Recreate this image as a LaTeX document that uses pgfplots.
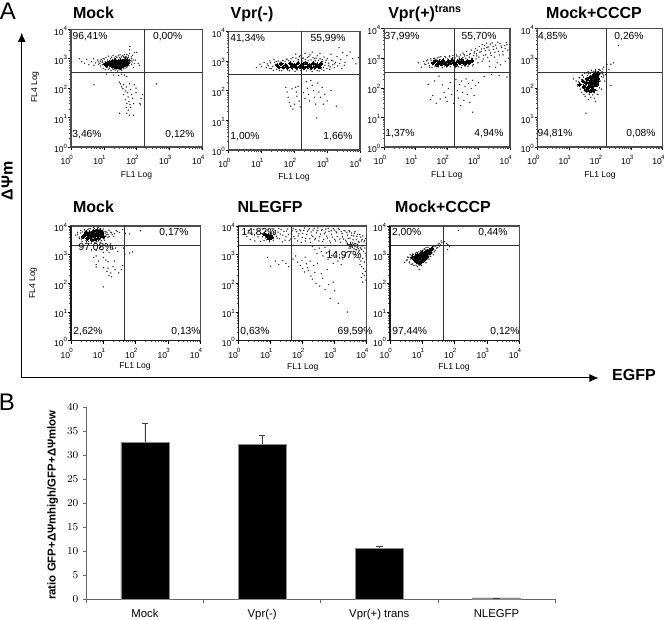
\documentclass[border=0pt]{standalone}
\usepackage{fontspec}
\setmainfont{Liberation Sans}
\usepackage{pgfplots}
\usepackage{pgfplotstable}
\usetikzlibrary{arrows.meta}
\pgfplotsset{compat=1.18}
% ---- dense core, scattered events and halo of each dot plot: FL1 FL4
\pgfplotstableread[row sep=\\]{x y\\
11 650\\13 720\\15 620\\15 780\\18 560\\18 680\\18 820\\22 520\\22 640\\22 760\\22 900\\27 540\\27 660\\27 800\\32 500\\32 620\\32 740\\32 880\\38 560\\38 680\\38 830\\45 620\\45 760\\45 940\\53 700\\53 860\\12 580\\25 590\\29 720\\35 650\\}\pA
\pgfplotstableread[row sep=\\]{x y\\
1.8 1000\\2.1 800\\2.6 700\\3 950\\3.5 620\\4.2 800\\4.8 1000\\5.5 720\\6.5 900\\7 650\\7.8 820\\8.8 760\\9.5 1000\\5 600\\40 1200\\50 1400\\55 1100\\60 1500\\70 1000\\75 1300\\85 1600\\60 2000\\62 2600\\100 1650\\90 900\\110 700\\120 600\\80 500\\70 650\\12 300\\20 280\\28 270\\35 300\\42 280\\50 250\\30 160\\32 140\\35 110\\38 95\\40 130\\45 80\\48 110\\52 70\\55 50\\60 140\\65 90\\70 60\\75 45\\40 60\\45 40\\50 30\\58 35\\62 28\\48 22\\55 18\\65 22\\80 30\\95 100\\95 70\\85 130\\30 14\\50 14\\60 12\\80 12\\125 30\\130 27\\135 45\\150 60\\400 140\\5 130\\}\pAs
\pgfplotstableread[row sep=\\]{x y\\
8 560\\9 830\\9.5 470\\10.3 980\\11 420\\11.6 1100\\12.4 500\\13 900\\13.7 440\\14 1220\\15 480\\16 1000\\16.5 390\\17.4 1130\\18.6 450\\19 1300\\20 430\\21 1060\\22 410\\23 1200\\24.5 450\\25 1090\\26 380\\27.5 1250\\29 420\\30 1080\\31 1350\\33 430\\34 1150\\35 400\\37 1270\\39 460\\41 1100\\42 1400\\44 480\\47 1200\\49 520\\50 1080\\52 560\\56 1250\\58 600\\60 950\\62 740\\66 870\\68 1150\\72 780\\78 900\\84 700\\10 700\\9 620\\11 790\\7.5 700\\8.3 930\\6.8 780\\}\pAh
\pgfplotstableread[row sep=\\]{x y\\
30 720\\34 620\\40 800\\46 620\\55 730\\62 600\\75 830\\85 640\\100 740\\115 610\\130 850\\150 650\\170 760\\195 600\\220 860\\255 640\\290 740\\330 600\\380 830\\440 640\\500 750\\580 620\\650 820\\}\pB
\pgfplotstableread[row sep=\\]{x y\\
7 600\\9 780\\10 650\\12 900\\14 600\\15 800\\18 1000\\20 550\\24 1100\\28 950\\35 480\\45 1050\\60 1150\\70 480\\90 1300\\110 1700\\130 1100\\150 1500\\180 1200\\210 1800\\250 1300\\300 1600\\350 2000\\420 1200\\500 1500\\600 1800\\700 1100\\800 1350\\900 900\\1000 1200\\1100 700\\1300 1700\\1500 1000\\1700 800\\2000 1400\\2300 2800\\2600 1100\\3000 1900\\3500 900\\4000 1500\\5000 2000\\6000 1200\\7500 800\\9000 1300\\1200 520\\800 470\\
55 130\\60 90\\65 60\\70 40\\78 30\\85 115\\90 24\\100 35\\110 130\\115 90\\120 65\\130 140\\140 45\\150 28\\165 160\\190 85\\210 55\\230 200\\250 120\\270 75\\290 45\\320 220\\350 150\\380 100\\410 60\\450 35\\480 12\\520 180\\560 90\\620 60\\700 130\\760 35\\850 75\\1000 45\\1300 100\\1900 30\\}\pBs
\pgfplotstableread[row sep=\\]{x y\\
16 700\\18 560\\19 860\\22 640\\23 480\\25 900\\27 760\\29 520\\32 1000\\35 560\\37 920\\41 470\\44 1010\\47 540\\52 950\\57 1120\\61 500\\67 1020\\72 470\\79 1180\\88 520\\94 960\\105 450\\112 1250\\122 500\\136 1080\\143 1390\\158 470\\172 1000\\186 1260\\204 530\\215 1120\\238 460\\262 1020\\276 1420\\305 510\\322 1080\\347 440\\371 1300\\405 520\\431 1010\\462 1250\\495 480\\540 1050\\570 460\\610 1180\\680 530\\730 950\\770 610\\850 720\\930 1060\\980 560\\1120 850\\1230 630\\1350 1050\\1480 740\\1640 590\\1800 900\\2100 680\\2400 830\\2800 550\\3300 720\\}\pBh
\pgfplotstableread[row sep=\\]{x y\\
36 700\\42 820\\48 620\\56 760\\65 640\\74 840\\85 700\\98 600\\110 800\\125 690\\145 860\\165 720\\190 620\\220 800\\250 700\\290 880\\330 740\\380 660\\440 800\\520 720\\620 830\\}\pC
\pgfplotstableread[row sep=\\]{x y\\
12 700\\15 500\\18 780\\21 620\\24 880\\27 560\\30 950\\33 480\\40 1000\\46 520\\55 1100\\70 480\\85 1150\\100 530\\120 1200\\150 1050\\180 500\\200 1300\\240 1100\\280 480\\320 1500\\360 1200\\420 1700\\460 530\\520 1350\\580 1900\\650 550\\720 1500\\800 2100\\880 1200\\960 700\\1050 2500\\1200 1700\\1300 2900\\1400 950\\1500 2100\\1700 1300\\1800 3200\\2000 2400\\2200 800\\2400 1500\\2700 3300\\3000 2000\\3200 1100\\3500 2800\\3900 700\\4300 1700\\4800 3100\\5400 2300\\6000 1300\\6800 2700\\7600 3400\\8500 1900\\9000 1000\\7000 800\\5000 600\\3500 500\\2200 520\\
25 130\\40 170\\55 250\\30 40\\35 55\\45 30\\60 42\\70 125\\80 70\\90 48\\100 35\\110 95\\125 150\\140 60\\160 30\\170 110\\190 190\\210 80\\230 45\\250 130\\270 25\\290 170\\310 70\\340 38\\370 110\\400 200\\440 60\\480 140\\530 32\\590 95\\650 180\\720 55\\800 120\\1000 150\\1500 240\\2600 280\\4500 260\\8000 230\\650 15\\}\pCs
\pgfplotstableread[row sep=\\]{x y\\
19 640\\22 820\\25 690\\28 500\\31 830\\34 600\\37 970\\41 540\\44 880\\49 1020\\53 510\\59 900\\63 1120\\68 560\\76 970\\82 540\\90 1080\\96 510\\104 950\\118 1120\\127 520\\138 960\\152 1240\\160 580\\178 1020\\205 1180\\226 520\\245 960\\268 1280\\300 570\\315 1050\\345 1330\\372 540\\392 1000\\430 1250\\470 600\\505 1090\\545 1440\\610 1000\\670 620\\690 1240\\750 1700\\830 950\\860 1400\\920 1850\\1020 1100\\1100 1600\\1250 2050\\1320 800\\1450 1250\\1550 2700\\1650 1800\\1850 2300\\1950 1050\\2150 1900\\2350 3000\\2500 1250\\2900 2500\\3300 1600\\3700 2200\\4100 3500\\4600 1300\\5200 2600\\5900 1700\\7000 2100\\8000 2900\\}\pCh
\pgfplotstableread[row sep=\\]{x y\\
48 230\\58 250\\68 260\\78 240\\38 200\\50 180\\62 200\\74 190\\86 210\\28 170\\36 150\\48 140\\60 150\\72 160\\84 170\\22 130\\30 110\\42 105\\54 110\\66 125\\78 130\\36 85\\48 78\\60 85\\70 300\\85 300\\}\pD
\pgfplotstableread[row sep=\\]{x y\\
14 200\\17 170\\19 115\\21 220\\23 90\\25 70\\27 270\\30 60\\33 52\\37 320\\42 300\\45 60\\50 48\\55 340\\60 70\\65 45\\70 380\\80 60\\90 420\\100 380\\110 90\\120 300\\125 230\\130 500\\140 170\\150 280\\160 370\\165 620\\190 420\\220 630\\270 700\\380 2700\\220 120\\35 14\\42 40\\70 35\\}\pDs
\pgfplotstableread[row sep=\\]{x y\\
20 160\\22 220\\24 130\\25 190\\26 270\\27 100\\29 230\\30 150\\31 80\\32 310\\34 190\\35 120\\37 70\\39 260\\40 170\\41 350\\43 95\\45 62\\46 220\\48 310\\50 120\\52 75\\53 390\\56 170\\58 58\\59 280\\62 100\\63 350\\66 68\\68 180\\71 420\\73 110\\76 280\\78 80\\80 350\\85 60\\88 140\\90 260\\95 410\\100 170\\105 300\\110 240\\115 350\\122 430\\95 100\\130 270\\}\pDh
\pgfplotstableread[row sep=\\]{x y\\
2.4 4300\\2.8 5200\\3.2 3700\\3.4 4800\\3.8 5900\\4 4200\\4.4 3300\\4.6 5100\\5 6500\\5.2 4400\\5.6 3500\\6 5400\\6.4 7000\\6.6 4600\\7 3700\\7.6 5600\\8 6900\\8.4 4700\\9.2 5800\\10 4300\\3 6000\\}\pE
\pgfplotstableread[row sep=\\]{x y\\
1.4 4800\\1.6 6000\\1.8 3600\\2 7000\\2.2 2900\\2.6 7500\\3 2800\\3.6 8000\\4.2 2500\\5 8800\\6 2500\\7 8900\\8 2700\\10 7900\\11 3200\\12 6500\\13 5000\\14 4000\\15 7200\\18 5800\\21 4300\\25 7000\\32 6000\\40 7500\\48 5600\\65 5300\\140 6800\\
6 1400\\8 1800\\5 800\\9 1500\\13 1400\\15 1200\\17 1800\\20 1600\\24 1700\\28 1300\\42 1700\\65 1150\\80 1250\\6 900\\7 600\\6 450\\6 370\\10 1200\\10 800\\10 350\\12 650\\14 560\\14 340\\13 260\\15 190\\17 230\\18 170\\20 380\\22 600\\23 300\\30 230\\36 300\\40 420\\46 1000\\10 75\\}\pEs
\pgfplotstableread[row sep=\\]{x y\\
1.6 5200\\1.8 4100\\2 5700\\2.1 3500\\2.3 6200\\2.5 3900\\2.7 6800\\2.9 3100\\3 5500\\3.3 7400\\3.5 2900\\3.7 6400\\4 8100\\4.3 2800\\4.6 7000\\4.9 3000\\5.3 8200\\5.5 2600\\5.8 7300\\6.1 2900\\6.6 8500\\7 3000\\7.4 7700\\7.9 3300\\8.3 8000\\8.8 3100\\9.5 7100\\10 3600\\10.5 6500\\11 3800\\11.5 5600\\12 4500\\13 6000\\14 5100\\15 4300\\17 6100\\19 5000\\22 5400\\27 6400\\}\pEh
\pgfplotstableread[row sep=\\]{x y\\
6.5 5200\\8 4500\\8.5 4200\\9 3700\\10 4600\\10.5 4000\\}\pF
\pgfplotstableread[row sep=\\]{x y\\
1.5 6000\\1.8 4300\\2 7000\\2.3 3400\\2.6 5100\\3 7700\\3.2 3000\\3.6 5800\\4 4200\\4.3 7000\\4.8 2900\\5.3 5500\\5.8 8000\\6.2 3100\\7 6500\\7.5 3300\\8.3 7300\\9.2 2800\\10 6000\\11 7900\\12 3200\\13 5000\\14 6900\\16 3800\\18 8100\\20 5200\\23 2800\\26 6500\\30 4200\\34 7800\\38 3100\\44 5500\\50 8000\\57 3600\\65 6300\\72 4500\\80 7400\\90 2700\\100 5500\\115 8500\\125 3700\\140 6500\\160 8000\\175 2700\\190 4800\\210 7200\\240 3300\\270 5800\\300 8500\\340 4200\\390 7000\\420 2900\\470 5300\\530 7800\\600 3800\\660 6500\\740 2600\\800 5200\\900 8200\\1000 3400\\1100 6600\\1200 4300\\1400 7400\\1500 2700\\1700 5500\\1900 3500\\2100 6800\\2300 2800\\2500 4800\\2800 7000\\3000 3800\\3300 5700\\3600 2600\\3900 4500\\4300 6400\\4700 3300\\5200 5000\\5800 2700\\6500 4100\\7200 3400\\8200 2800\\9200 3600\\
3200 2100\\2500 2300\\2800 1700\\3500 1900\\3800 1300\\4200 2100\\4700 1500\\5300 1900\\6000 1100\\6600 1600\\7200 2000\\8000 1300\\8800 1700\\9500 900\\9000 1100\\
4300 1000\\5000 800\\5800 700\\6600 600\\7500 750\\8500 550\\6200 450\\7000 380\\8000 320\\9000 260\\7500 220\\8500 190\\6800 160\\9500 130\\7500 110\\
200 1900\\240 1500\\280 1100\\330 1700\\380 1300\\430 900\\500 1800\\550 1150\\620 700\\700 1450\\800 950\\900 500\\1000 800\\1100 1200\\1250 600\\1400 1000\\1600 450\\1800 700\\2000 900\\2400 1200\\
50 700\\60 900\\70 550\\85 420\\95 620\\100 330\\115 250\\120 820\\130 480\\140 350\\150 280\\170 600\\180 180\\200 140\\220 420\\240 240\\260 100\\290 500\\340 80\\380 220\\420 150\\500 60\\580 300\\650 90\\720 30\\900 110\\1000 55\\1300 20\\2500 10\\
8 800\\10 400\\14 600\\18 450\\24 620\\30 500\\36 380\\
1000 1\\1300 1\\1600 1\\2000 1\\2200 1\\3000 1\\4000 1\\5000 1\\6000 1\\7000 1\\8000 1\\}\pFs
\pgfplotstableread[row sep=\\]{x y\\
5.5 4200\\6.2 4900\\6.8 3800\\7.1 5300\\7.7 4700\\8.1 3400\\8.6 5600\\9.1 4400\\9.6 5000\\10.2 3600\\10.8 5300\\11.4 4300\\12.3 3800\\12.7 5800\\15 4400\\17 6100\\19 3600\\21 7400\\24 4800\\28 3200\\31 6600\\36 5000\\41 3500\\47 6800\\53 4300\\61 7400\\69 3000\\76 5400\\86 6800\\97 4000\\108 7000\\121 3000\\133 5100\\150 7300\\168 3600\\183 6200\\205 4300\\228 8300\\252 3700\\284 6900\\318 3000\\358 5200\\402 7500\\450 3400\\505 6100\\565 4400\\630 8300\\700 3000\\770 6800\\860 4100\\960 7300\\1050 3000\\1150 5800\\1300 8000\\1450 3500\\1600 6400\\1750 4200\\1950 7100\\2200 3200\\2400 6000\\2650 3700\\2950 6300\\3150 2700\\3400 4700\\3750 3300\\4100 5600\\4500 2400\\4900 4200\\5500 2900\\6100 5000\\6800 3000\\7600 4500\\8600 3100\\9600 2500\\
2500 2500\\2700 2200\\2900 2000\\3000 2300\\3200 1900\\3100 1700\\3400 2100\\3600 1800\\3800 2300\\4000 1600\\4300 1900\\4600 1500\\5000 1800\\5400 1600\\5800 1400\\6300 1750\\7000 1500\\2950 2150\\3300 2250\\3550 2050\\3150 2400\\4200 2400\\4800 2100\\5200 2300\\}\pFh
\pgfplotstableread[row sep=\\]{x y\\
5 780\\6 650\\6 850\\7 560\\7 720\\7 950\\8.5 520\\8.5 680\\8.5 850\\8.5 1050\\10 600\\10 780\\10 970\\10 1200\\12 700\\12 900\\12 1150\\14 850\\14 1080\\14 1350\\17 1150\\17 1450\\20 1650\\}\pG
\pgfplotstableread[row sep=\\]{x y\\
2.8 540\\3.2 650\\3.5 820\\4 560\\4.2 1000\\4.5 460\\5 1050\\5.5 420\\6.5 1200\\7 380\\8 300\\9 1350\\9.5 420\\12 1550\\13 520\\16 700\\18 860\\20 1150\\22 1000\\23 1900\\25 1400\\27 2100\\30 1800\\33 2500\\36 2200\\38 3000\\40 2600\\48 2800\\55 2500\\60 2300\\62 2200\\70 1900\\60 1500\\130 7000\\}\pGs
\pgfplotstableread[row sep=\\]{x y\\
3.4 650\\3.8 800\\4 520\\4.4 700\\4.6 900\\5 470\\5.3 1020\\5.7 560\\6.2 1100\\6.4 430\\6.9 1180\\7.5 450\\7.8 1250\\8.3 430\\9 1350\\9.5 480\\10.5 1450\\11 540\\11.5 1600\\12.5 620\\13 1750\\14 720\\15 1800\\16 900\\18 1000\\19 1300\\21 1900\\22 1500\\24 1250\\26 2000\\28 1700\\31 2300\\34 2000\\}\pGh
\pgfplotsset{
 flowaxis/.style={scale only axis,xmin=1,xmax=10000,ymin=1,ymax=10000,
  xtick={1,10,100,1000,10000},ytick={1,10,100,1000,10000},
  minor xtick={2,3,4,5,6,7,8,9,20,30,40,50,60,70,80,90,200,300,400,500,600,700,800,900,2000,3000,4000,5000,6000,7000,8000,9000},
  minor ytick={2,3,4,5,6,7,8,9,20,30,40,50,60,70,80,90,200,300,400,500,600,700,800,900,2000,3000,4000,5000,6000,7000,8000,9000},
  xticklabels={\xp0,\xp1,\xp2,\xp3,\xp4},yticklabels={\yp0,\yp1,\yp2,\yp3,\yp4},
  tick align=outside,xtick pos=bottom,ytick pos=left,
  major tick length=2.4pt,minor tick length=1.2pt,
  tick style={black,line width=0.4pt},minor tick style={black!70,line width=0.3pt},
  axis line style={line width=0.8pt,black!70},
  xticklabel style={font=\fontsize{6.4}{7}\selectfont,inner sep=0pt,yshift=-3.4pt},
  yticklabel style={font=\fontsize{6.4}{7}\selectfont,inner sep=0pt,xshift=-0.4pt,yshift=-1pt},
  anchor=south west},
 gatel/.style={forget plot,black!80,line width=0.65pt},
 corem/.style={only marks,mark=*,mark size=1.35pt,black,mark options={draw=black,fill=black,line width=0pt}},
 dotm/.style={only marks,mark=*,mark size=0.27pt,black!85,mark options={draw=none,fill=black!85}},
}
\newcommand\xp[1]{\makebox[0pt][r]{10\hspace{0.7pt}}\makebox[0pt][c]{\raisebox{0.62em}{\fontsize{4.6}{5}\selectfont #1}}}
\newcommand\yp[1]{10\raisebox{0.55em}{\fontsize{4.6}{5}\selectfont #1}}
% x0 x1 ytop ybot vgate hgate core dots halo
\newcommand\flowpanel[9]{%
 \pgfmathsetmacro\wA{(#2-#1)*0.75}\pgfmathsetmacro\hA{(#4-#3)*0.75}%
 \pgfmathsetmacro\xA{#1*0.75}\pgfmathsetmacro\yA{(620-#4)*0.75}%
 \begin{loglogaxis}[flowaxis,at={(\xA pt,\yA pt)},width=\wA pt,height=\hA pt]
  \addplot[dotm] table {#8};
  \addplot[dotm] table {#9};
  \addplot[corem] table {#7};
  \addplot[gatel] coordinates {(#5,1)(#5,10000)};
  \addplot[gatel] coordinates {(1,#6)(10000,#6)};
 \end{loglogaxis}}
\newcommand\T[4][]{\node[inner sep=0pt,#1] at ({#2*0.75pt},{(620-#3)*0.75pt}) {#4};}
\newcommand\Lframe[3]{\draw[black!90,line width=1.1pt] ({#1*0.75pt},{(620-226)*0.75pt}) -- ({#1*0.75pt},{(620-340.7)*0.75pt}) -- ({#2*0.75pt},{(620-340.7)*0.75pt});}
\newcommand\pc{\fontsize{7.7}{9}\selectfont}
\newcommand\ttl{\fontsize{12}{14}\selectfont\bfseries}
\newcommand\lab{\fontsize{6.4}{8}\selectfont}
\begin{document}
\begin{tikzpicture}
\useasboundingbox (0,0) rectangle (498pt,465pt);
\flowpanel{71}{202.5}{29.3}{147}{166}{340}{\pA}{\pAs}{\pAh}
\flowpanel{228.7}{360}{31.3}{150}{163}{345}{\pB}{\pBs}{\pBh}
\flowpanel{384.3}{510}{28.7}{147}{165}{340}{\pC}{\pCs}{\pCh}
\flowpanel{537.7}{662.7}{28.7}{147}{162}{340}{\pD}{\pDs}{\pDh}
\flowpanel{71}{200.3}{226}{340.7}{45}{2180}{\pE}{\pEs}{\pEh}
\flowpanel{238.7}{366.7}{226}{340.7}{44}{2180}{\pF}{\pFs}{\pFh}
\flowpanel{390}{519.3}{226}{340.7}{45}{2180}{\pG}{\pGs}{\pGh}
\Lframe{71}{200.3}{}\Lframe{238.7}{366.7}{}\Lframe{390}{519.3}{}
% bar chart
\begin{axis}[scale only axis,anchor=south west,at={(64.8pt,15.5pt)},width=351.5pt,height=144.2pt,
 xmin=-0.5,xmax=3.5,ymin=0,ymax=40,ytick={0,5,...,40},
 xtick={0,1,2,3},xticklabels={Mock,Vpr(-),Vpr(+) trans,NLEGFP},
 minor xtick={-0.5,0.5,1.5,2.5,3.5},
 axis lines=left,axis line style={-,black!60,line width=0.6pt},
 tick align=outside,major x tick style={draw=none},
 minor x tick style={black!60,line width=0.5pt},minor tick length=2.5pt,
 major y tick style={black!60,line width=0.5pt},major tick length=2.5pt,
 ticklabel style={font=\fontsize{8.5}{10}\selectfont},
 xticklabel style={yshift=-1.5pt},
 ylabel={\fontsize{8.55}{10}\selectfont\bfseries ratio GFP+ΔΨmhigh/GFP+ΔΨmlow},
 every axis y label/.style={at={(axis description cs:-0.072,0.49)},rotate=90,anchor=center,inner sep=0pt},
 ]
 \addplot[ybar,bar width=36pt,fill=black,draw=black!45,line width=0.5pt,
  error bars/.cd,y dir=plus,y explicit,
  error bar style={black!75,line width=0.5pt},
  error mark options={rotate=90,mark size=2.4pt,black!75,line width=0.5pt}]
  coordinates {(0,32.7) +- (0,3.9) (1,32.3) +- (0,1.9) (2,10.6) +- (0,0.5) (3,0.3) +- (0,0)};
\end{axis}
% arrows
\draw[line width=0.75pt,-{Latex[length=7pt,width=6pt]}] (16.3pt,181.5pt) -- (16.3pt,440.5pt);
\draw[line width=0.75pt,-{Latex[length=7pt,width=6pt]}] (16.3pt,181.5pt) -- (449pt,181.5pt);
\T{8}{11}{\fontsize{18}{20}\selectfont A}
\T{7}{402.5}{\fontsize{18}{20}\selectfont B}
\T[rotate=90]{7}{181}{\fontsize{12}{14}\selectfont\bfseries ΔΨm}
\T{634}{375}{\fontsize{12}{14}\selectfont\bfseries EGFP}
% titles
\T{93.5}{13}{\ttl Mock}\T{252}{14}{\ttl Vpr(-)}
\T{425}{14}{\ttl Vpr(+)\textsuperscript{trans}}\T{594}{13}{\ttl Mock+CCCP}
\T{93.5}{207}{\ttl Mock}\T{270}{207}{\ttl NLEGFP}\T{443}{207}{\ttl Mock+CCCP}
% axis names
\foreach \x/\y in {136.5/175,294/177,446.7/175,600/175,135/366.7,302.7/367,454/367}{\T{\x}{\y}{\lab FL1 Log}}
\T[rotate=90]{35}{87}{\lab FL4 Log}\T[rotate=90]{33}{283}{\lab FL4 Log}
% quadrant percentages
\T{90}{36.5}{\pc 96,41\%}\T{167.7}{36.5}{\pc 0,00\%}\T{87}{134.5}{\pc 3,46\%}\T{180}{134.5}{\pc 0,12\%}
\T{247.7}{38.7}{\pc 41,34\%}\T{328}{38.7}{\pc 55,99\%}\T{245}{136.5}{\pc 1,00\%}\T{338}{136.5}{\pc 1,66\%}
\T{402}{36.3}{\pc 37,99\%}\T{479}{36.3}{\pc 55,70\%}\T{400}{134}{\pc 1,37\%}\T{489}{134}{\pc 4,94\%}
\T{552.7}{36.5}{\pc 4,85\%}\T{629}{36.5}{\pc 0,26\%}\T{555}{134}{\pc 94,81\%}\T{641}{134}{\pc 0,08\%}
\T{174}{233}{\pc 0,17\%}\T{96}{247.7}{\pc 97,08\%}\T{88}{332}{\pc 2,62\%}\T{186}{332}{\pc 0,13\%}
\T{259}{233}{\pc 14,82\%}\T{344}{256}{\pc 14,97\%}\T{255}{332}{\pc 0,63\%}\T{355}{332}{\pc 69,59\%}
\T{406.7}{233}{\pc 2,00\%}\T{493}{233}{\pc 0,44\%}\T{409.7}{332}{\pc 97,44\%}\T{505}{332}{\pc 0,12\%}
\end{tikzpicture}
\end{document}
